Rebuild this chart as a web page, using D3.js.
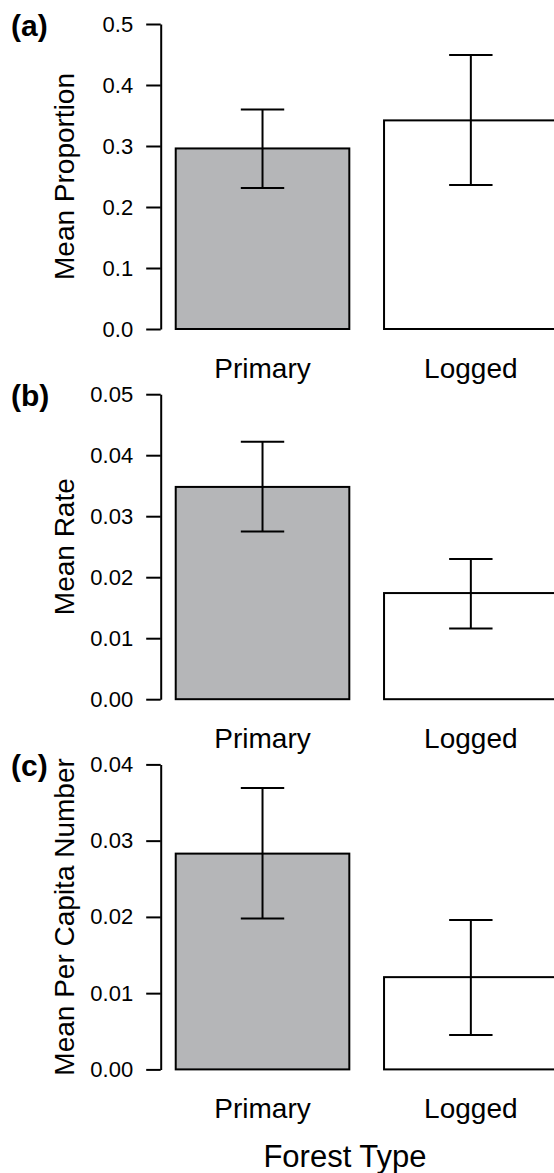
<!DOCTYPE html>
<html>
<head>
<meta charset="utf-8">
<script src="https://cdn.jsdelivr.net/npm/d3@7"></script>
<style>
  body { margin: 0; background: #fff; }
  svg { display: block; font-family: "Liberation Sans", Arial, Helvetica, sans-serif; }
</style>
</head>
<body>
<div id="chart"></div>
<script>
// categories on the x axis
var categories = ["Primary", "Logged"];

// (a) mean proportion with error bar ends
var propMean = [0.296, 0.342];
var propLow  = [0.231, 0.236];
var propHigh = [0.360, 0.449];
var propTicks = [0, 0.1, 0.2, 0.3, 0.4, 0.5];

// (b) mean rate
var rateMean = [0.0348, 0.0174];
var rateLow  = [0.0275, 0.0116];
var rateHigh = [0.0422, 0.0230];
var rateTicks = [0, 0.01, 0.02, 0.03, 0.04, 0.05];

// (c) mean per capita number
var capMean = [0.0283, 0.0121];
var capLow  = [0.0198, 0.0045];
var capHigh = [0.0369, 0.0196];
var capTicks = [0, 0.01, 0.02, 0.03, 0.04];

var panels = [
  {tag: "(a)", ylab: "Mean Proportion", mean: propMean, low: propLow, high: propHigh, ticks: propTicks, fmt: ".1f"},
  {tag: "(b)", ylab: "Mean Rate", mean: rateMean, low: rateLow, high: rateHigh, ticks: rateTicks, fmt: ".2f"},
  {tag: "(c)", ylab: "Mean Per Capita Number", mean: capMean, low: capLow, high: capHigh, ticks: capTicks, fmt: ".2f"}
];

var W = 554, H = 1173;
var axisX = 160.7;
var panelTop = 24, panelH = 305, panelStep = 370.2;
var fills = ["#b5b6b8", "#ffffff"];

var svg = d3.select("#chart").append("svg")
    .attr("width", W)
    .attr("height", H);

// bars sit at 0.2 + 1.2*i in bar-width units, like R barplot
var x = d3.scaleLinear()
    .domain([0, 2.4])
    .range([141, 141 + 2.4 * 173.6]);

panels.forEach(function (p, k) {
  var top = panelTop + k * panelStep;
  var g = svg.append("g");

  var y = d3.scaleLinear()
      .domain([0, d3.max(p.ticks)])
      .range([top + panelH, top]);

  var data = categories.map(function (c, i) {
    return {name: c, i: i, mean: p.mean[i], low: p.low[i], high: p.high[i]};
  });

  // bars
  g.selectAll(".bar")
      .data(data)
      .enter()
      .append("rect")
      .attr("class", "bar")
      .attr("x", function (d) { return x(0.2 + 1.2 * d.i); })
      .attr("width", x(1) - x(0))
      .attr("y", function (d) { return y(d.mean); })
      .attr("height", function (d) { return y(0) - y(d.mean); })
      .style("fill", function (d) { return fills[d.i]; })
      .style("stroke", "#000")
      .style("stroke-width", 2);

  // error bars
  var eb = g.selectAll(".err")
      .data(data)
      .enter()
      .append("g")
      .attr("class", "err")
      .style("stroke", "#000")
      .style("stroke-width", 2);

  eb.append("line")
      .attr("x1", function (d) { return x(0.7 + 1.2 * d.i); })
      .attr("x2", function (d) { return x(0.7 + 1.2 * d.i); })
      .attr("y1", function (d) { return y(d.low); })
      .attr("y2", function (d) { return y(d.high); });

  ["low", "high"].forEach(function (key) {
    eb.append("line")
        .attr("x1", function (d) { return x(0.575 + 1.2 * d.i); })
        .attr("x2", function (d) { return x(0.825 + 1.2 * d.i); })
        .attr("y1", function (d) { return y(d[key]); })
        .attr("y2", function (d) { return y(d[key]); });
  });

  // y axis
  var yAxis = d3.axisLeft(y)
      .tickValues(p.ticks)
      .tickFormat(d3.format(p.fmt))
      .tickSizeInner(14.5)
      .tickSizeOuter(0)
      .tickPadding(13);

  var gy = g.append("g")
      .attr("transform", "translate(" + axisX + ",0)")
      .call(yAxis);
  gy.selectAll("path, line").style("stroke", "#000").style("stroke-width", 2);
  gy.selectAll("text")
      .style("font-size", "22px")
      .style("fill", "#000")
      .style("font-family", "'Liberation Sans', Arial, Helvetica, sans-serif");

  // category labels
  g.selectAll(".cat")
      .data(data)
      .enter()
      .append("text")
      .attr("class", "cat")
      .attr("x", function (d) { return x(0.7 + 1.2 * d.i); })
      .attr("y", y(0) + 49)
      .attr("text-anchor", "middle")
      .style("font-size", "28px")
      .text(function (d) { return d.name; });

  // y axis title
  g.append("text")
      .attr("transform", "translate(74," + (top + panelH / 2) + ") rotate(-90)")
      .attr("text-anchor", "middle")
      .style("font-size", "28px")
      .text(p.ylab);

  // panel tag
  g.append("text")
      .attr("x", 11)
      .attr("y", top + 12)
      .style("font-size", "30px")
      .style("font-weight", "bold")
      .text(p.tag);
});

svg.append("text")
    .attr("x", 345)
    .attr("y", 1167)
    .attr("text-anchor", "middle")
    .style("font-size", "31px")
    .text("Forest Type");
</script>
</body>
</html>
